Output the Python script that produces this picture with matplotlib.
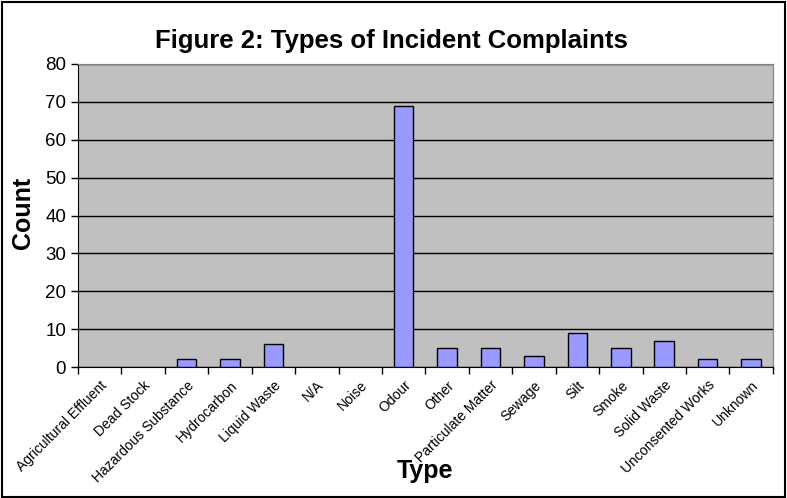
import matplotlib.pyplot as plt
import matplotlib.patches as patches
import numpy as np

# data
types = ['Agricultural Effluent', 'Dead Stock', 'Hazardous Substance', 'Hydrocarbon',
         'Liquid Waste', 'N/A', 'Noise', 'Odour', 'Other', 'Particulate Matter',
         'Sewage', 'Silt', 'Smoke', 'Solid Waste', 'Unconsented Works', 'Unknown']
counts = [0, 0, 2, 2, 6, 0, 0, 69, 5, 5, 3, 9, 5, 7, 2, 2]
y_ticks = [0, 10, 20, 30, 40, 50, 60, 70, 80]

plt.rcParams['font.family'] = ['Liberation Sans', 'DejaVu Sans']

fig = plt.figure(figsize=(7.87, 4.98), dpi=100)
ax = fig.add_axes([0.0991, 0.263, 0.8829, 0.6085])

x = np.arange(len(types))
# zero-count bars get no outline, as in the original
edge_w = [1 if c > 0 else 0 for c in counts]
ax.bar(x, counts, width=0.45, color='#9999FF', edgecolor='black', linewidth=edge_w, zorder=3)

ax.set_facecolor('#C0C0C0')
ax.set_xlim(-0.5, len(types) - 0.5)
ax.set_ylim(0, 80)
ax.set_yticks(y_ticks)
ax.yaxis.grid(True, color='black', linewidth=1)
ax.set_axisbelow(True)

# ticks between categories, labels at centres (Excel style)
ax.set_xticks(np.arange(-0.5, len(types)), minor=False)
ax.set_xticklabels([])
ax.set_xticks(x, minor=True)
ax.set_xticklabels(types, minor=True, rotation=45, ha='right', va='top',
                   rotation_mode='anchor', fontsize=10)
ax.tick_params(axis='x', which='minor', length=0, pad=8)
ax.tick_params(axis='x', which='major', length=5, width=1, direction='out')
ax.tick_params(axis='y', length=5, width=1, direction='out', labelsize=13.5)

for s in ['top', 'right']:
    ax.spines[s].set_color('#808080')
ax.spines['left'].set_color('black')
ax.spines['bottom'].set_color('black')

ax.set_ylabel('Count', fontsize=18, fontweight='bold')
ax.yaxis.set_label_coords(-0.062, 0.51)
ax.set_xlabel('Type', fontsize=18, fontweight='bold')
ax.xaxis.set_label_coords(0.499, -0.305)
fig.text(0.497, 0.918, 'Figure 2: Types of Incident Complaints', ha='center',
         va='center', fontsize=18.5, fontweight='bold')

# outer border of the chart
fig.patches.append(patches.Rectangle((0.002, 0.003), 0.995, 0.993, transform=fig.transFigure,
                                     fill=False, edgecolor='black', linewidth=1.5))

plt.savefig('out.png', dpi=100)
